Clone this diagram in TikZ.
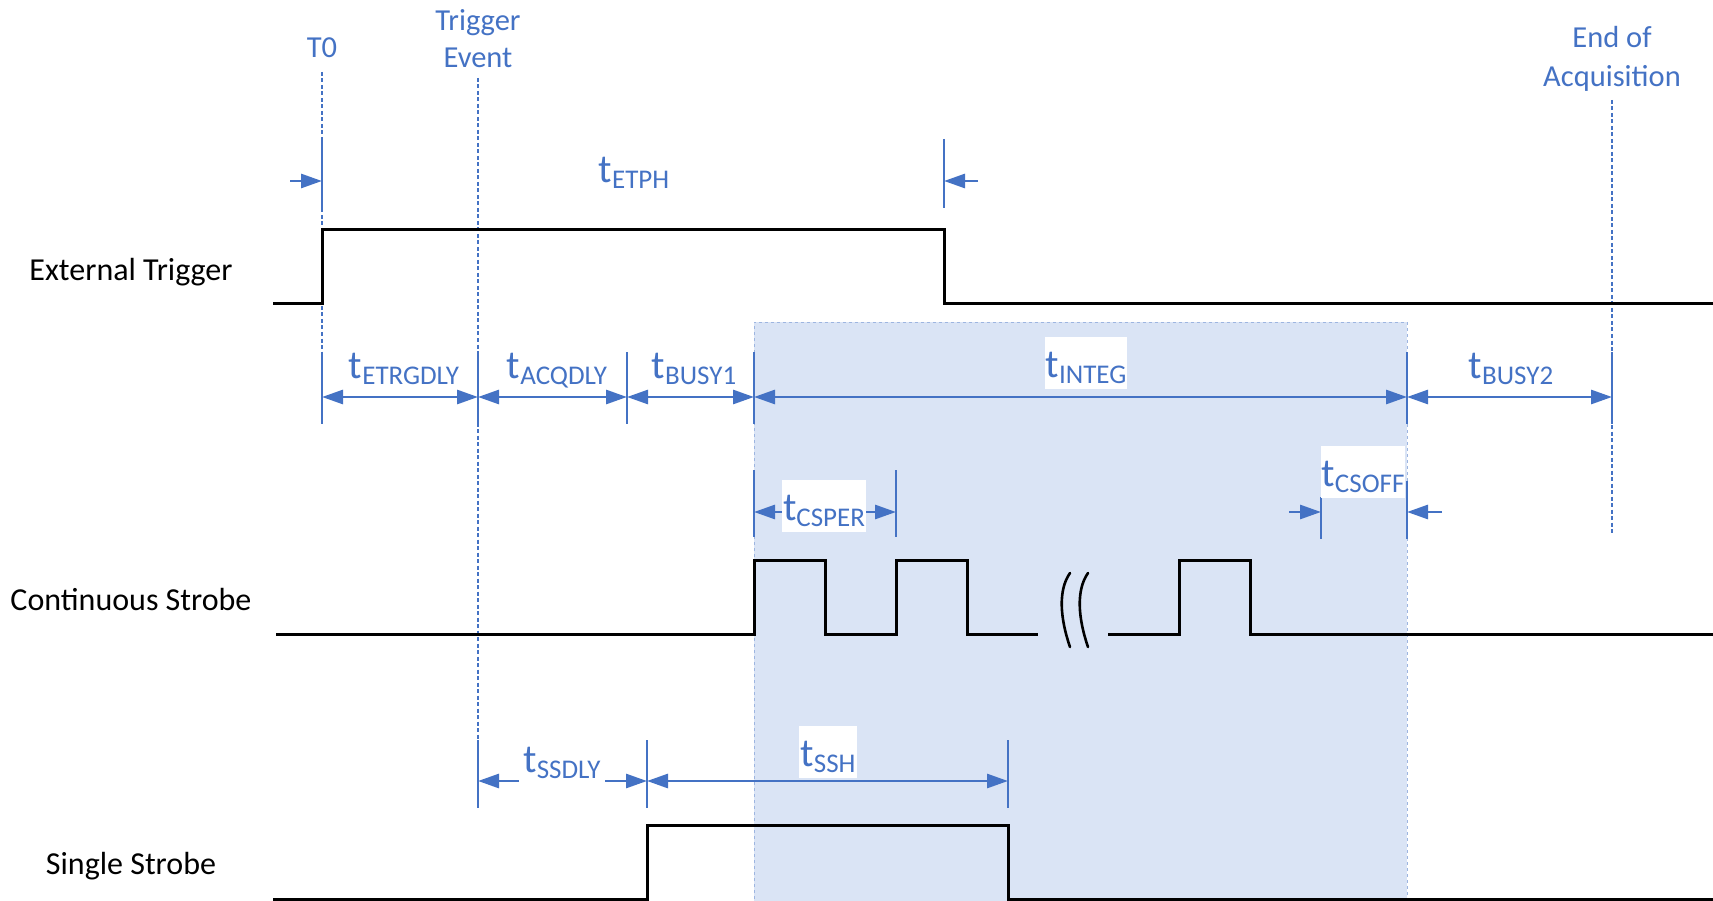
\documentclass[tikz,border=0pt]{standalone}
\usepackage{fontspec}
\setmainfont{Carlito}
\usetikzlibrary{arrows.meta}
\definecolor{dimblue}{HTML}{4472C4}
\definecolor{txtblue}{HTML}{4472C4}
\definecolor{boxfill}{RGB}{218,228,245}
\definecolor{boxline}{HTML}{9DB5E0}
\newcommand{\tlab}[1]{{\fontsize{40}{48}\selectfont t}\raisebox{-6pt}{\fontsize{27}{32}\selectfont #1}}
\begin{document}
\begin{tikzpicture}[x=1pt,y=-1pt,
  sig/.style={line width=3pt,black,line join=miter},
  tickline/.style={line width=2.8pt,dimblue},
  guide/.style={line width=2.8pt,dimblue,dash pattern=on 4pt off 2.5pt},
  dimarr/.style={line width=2.8pt,dimblue,{Triangle[length=21pt,width=14pt]}-{Triangle[length=21pt,width=14pt]}},
  onearr/.style={line width=2.8pt,dimblue,-{Triangle[length=21pt,width=14pt]}},
  siglabel/.style={font=\fontsize{32}{38}\selectfont,anchor=base,inner sep=0pt},
  evlabel/.style={font=\fontsize{30.5}{37}\selectfont,text=txtblue,anchor=base,inner sep=0pt},
  tlabel/.style={text=txtblue,anchor=base,inner sep=1pt},
  wlabel/.style={tlabel,fill=white,text height=38pt,text depth=10pt,inner xsep=1pt,inner ysep=2pt},
  wiggle/.style={line width=2.6pt,black,line cap=round}
]
\useasboundingbox (0,0) rectangle (1713,901);

% integration window
\fill[boxfill] (754,322) rectangle (1407,905);
\draw[boxline,dashed,line width=1pt] (754,905) -- (754,322) -- (1407,322) -- (1407,905);

% event guides
\coordinate (g0a) at (322,72);   \coordinate (g0b) at (322,424);
\coordinate (g1a) at (478,78);   \coordinate (g1b) at (478,808);
\coordinate (g2a) at (1612,100); \coordinate (g2b) at (1612,535);
\draw[guide] (g0a) -- (g0b);
\draw[guide] (g1a) -- (g1b);
\draw[guide] (g2a) -- (g2b);

% signals
\draw[sig] (273,304) -- (322,304) -- (322,230) -- (944,230) -- (944,304) -- (1713,304);
\draw[sig] (276,634) -- (754,634) -- (754,560) -- (825,560) -- (825,634) -- (896,634) -- (896,560) -- (967,560) -- (967,634) -- (1038,634);
\draw[sig] (1108,634) -- (1179,634) -- (1179,560) -- (1250,560) -- (1250,634) -- (1713,634);
\draw[wiggle] (1070,573) .. controls (1058,590) and (1060,618) .. (1070,647);
\draw[wiggle] (1088,573) .. controls (1076,590) and (1078,618) .. (1088,647);
\draw[sig] (273,899) -- (647,899) -- (647,825) -- (1008,825) -- (1008,899) -- (1713,899);

% signal names
\node[siglabel] (ext) at (131,280) {External Trigger};
\node[siglabel] (cont) at (131,610) {Continuous Strobe};
\node[siglabel] (single) at (131,874) {Single Strobe};

% event names
\node[evlabel] (t0) at (322,58) {T0};
\node[evlabel] (trg1) at (478,31) {Trigger};
\node[evlabel] (trg2) at (478,68) {Event};
\node[evlabel] (end1) at (1612,48) {End of};
\node[evlabel] (end2) at (1612,87) {Acquisition};

% tETPH
\draw[tickline] (322,139) -- (322,208);
\draw[tickline] (944,139) -- (944,208);
\coordinate (ph0) at (290,181); \coordinate (ph1) at (322,181);
\coordinate (ph2) at (978,181); \coordinate (ph3) at (944,181);
\draw[onearr] (ph0) -- (ph1);
\draw[onearr] (ph2) -- (ph3);
\node[tlabel] (etph) at (634,183) {\tlab{ETPH}};

% row of acquisition phases
\foreach \x in {322,478,627,754,1407,1612} \draw[tickline] (\x,352) -- (\x,424);
\coordinate (r0) at (322,397);
\coordinate (r1) at (478,397);
\coordinate (r2) at (627,397);
\coordinate (r3) at (754,397);
\coordinate (r4) at (1407,397);
\coordinate (r5) at (1612,397);
\draw[dimarr] (r0) -- (r1);
\draw[dimarr] (r1) -- (r2);
\draw[dimarr] (r2) -- (r3);
\draw[dimarr] (r3) -- (r4);
\draw[dimarr] (r4) -- (r5);
\node[tlabel] (etrg) at (404,378) {\tlab{ETRGDLY}};
\node[tlabel] (acq) at (557,378) {\tlab{ACQDLY}};
\node[tlabel] (busy1) at (694,378) {\tlab{BUSY1}};
\node[wlabel] (integ) at (1086,377) {\tlab{INTEG}};
\node[tlabel] (busy2) at (1511,378) {\tlab{BUSY2}};

% tCSPER
\draw[tickline] (754,470) -- (754,537);
\draw[tickline] (896,470) -- (896,537);
\coordinate (cp0) at (754,512); \coordinate (cp1) at (896,512);
\draw[dimarr] (cp0) -- (cp1);
\node[wlabel] (csper) at (824,520) {\tlab{CSPER}};

% tCSOFF
\draw[tickline] (1321,497) -- (1321,539);
\draw[tickline] (1407,481) -- (1407,539);
\coordinate (co0) at (1289,512); \coordinate (co1) at (1321,512);
\coordinate (co2) at (1442,512); \coordinate (co3) at (1407,512);
\draw[onearr] (co0) -- (co1);
\draw[onearr] (co2) -- (co3);
\node[wlabel] (csoff) at (1363,486) {\tlab{CSOFF}};

% tSSDLY and tSSH
\draw[tickline] (478,740) -- (478,808);
\draw[tickline] (647,740) -- (647,808);
\draw[tickline] (1008,740) -- (1008,808);
\coordinate (sd0) at (519,781); \coordinate (sd1) at (478,781);
\coordinate (sd2) at (605,781); \coordinate (sd3) at (647,781);
\draw[onearr] (sd0) -- (sd1);
\draw[onearr] (sd2) -- (sd3);
\node[tlabel] (ssdly) at (562,772) {\tlab{SSDLY}};
\coordinate (sh0) at (647,781); \coordinate (sh1) at (1008,781);
\draw[dimarr] (sh0) -- (sh1);
\node[wlabel] (ssh) at (828,766) {\tlab{SSH}};
\end{tikzpicture}
\end{document}
